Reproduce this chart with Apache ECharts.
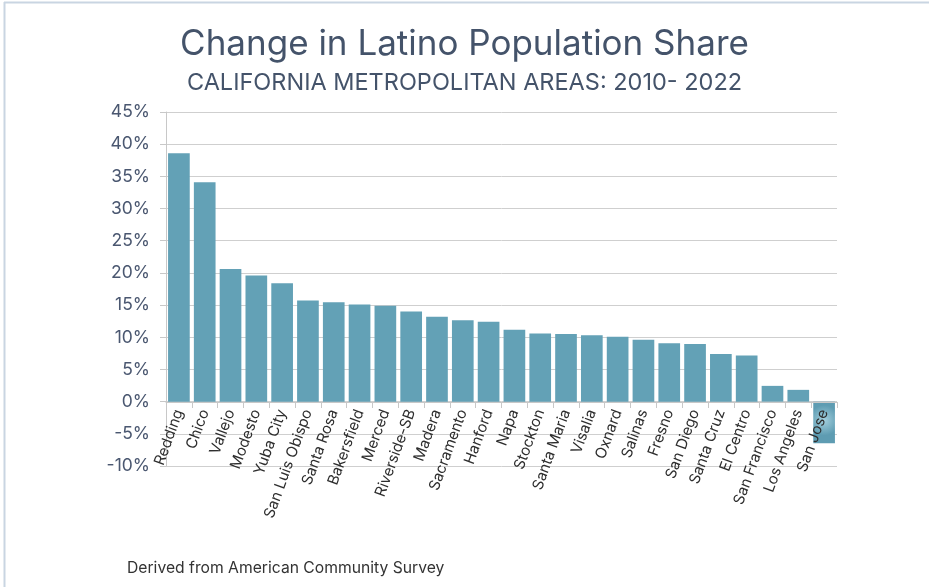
<!DOCTYPE html>
<html>
<head>
<meta charset="utf-8">
<script src="https://cdn.jsdelivr.net/npm/echarts@6/dist/echarts.min.js"></script>
<style>
html,body{margin:0;padding:0;background:#fff;}
#chart{width:929px;height:587px;}
</style>
</head>
<body>
<div id="chart"></div>
<script>
const categories = ["Redding","Chico","Vallejo","Modesto","Yuba City","San Luis Obispo","Santa Rosa","Bakersfield","Merced","Riverside-SB","Madera","Sacramento","Hanford","Napa","Stockton","Santa Maria","Visalia","Oxnard","Salinas","Fresno","San Diego","Santa Cruz","El Centro","San Francisco","Los Angeles","San Jose"];
const values = [38.6,34.1,20.6,19.6,18.4,15.7,15.45,15.1,14.9,14.0,13.2,12.65,12.4,11.15,10.6,10.5,10.3,10.07,9.6,9.08,8.97,7.42,7.16,2.45,1.83,-6.45];
const titleText = "Change in Latino Population Share";
const subtitleText = "CALIFORNIA METROPOLITAN AREAS: 2010- 2022";
const sourceText = "Derived from American Community Survey";

const FONT = "Inter, Lato, sans-serif";
const barColor = "#63a1b6";
const chart = echarts.init(document.getElementById('chart'), null, {renderer:'canvas'});
const data = values.map((v, i) => {
  if (i === values.length - 1) {
    return {value: v, itemStyle: {color: {type:'radial', x:0.5, y:0.45, r:0.7,
      colorStops:[{offset:0,color:'#a3cfdd'},{offset:1,color:'#5e9cb2'}]}}};
  }
  return v;
});
chart.setOption({
  animation:false,
  title:[
    {text:titleText, left:'center', top:22, textStyle:{fontFamily:FONT, fontSize:35, fontWeight:'normal', color:'#44536a'}},
    {text:subtitleText, left:'center', top:66, textStyle:{fontFamily:FONT, fontSize:23.5, fontWeight:'normal', color:'#44536a'}},
    {text:sourceText, left:122, top:555, textStyle:{fontFamily:FONT, fontSize:15.7, fontWeight:'normal', color:'#333'}}
  ],
  graphic:[
    {type:'line', shape:{x1:4.5,y1:2,x2:4.5,y2:587}, style:{stroke:'#c9d5e2', lineWidth:2}},
    {type:'line', shape:{x1:4,y1:2.5,x2:929,y2:2.5}, style:{stroke:'#c9d5e2', lineWidth:2}}
  ],
  grid:{left:166, right:92, top:112, bottom:121, containLabel:false},
  xAxis:{
    type:'category', data:categories, position:'bottom', offset:-64, z:5,
    axisLine:{show:true, onZero:false, lineStyle:{color:'#c8c8c8'}},
    axisTick:{show:true, alignWithLabel:false, length:6, lineStyle:{color:'#c8c8c8'}},
    axisLabel:{rotate:70, interval:0, margin:8, fontFamily:FONT, fontSize:15, color:'#2e2e2e'}
  },
  yAxis:{
    type:'value', min:-10, max:45, interval:5,
    axisLine:{show:true, lineStyle:{color:'#c8c8c8'}},
    axisTick:{show:true, length:6, lineStyle:{color:'#c8c8c8'}},
    splitLine:{show:true, lineStyle:{color:'#cfcfcf'}},
    axisLabel:{formatter:'{value}%', margin:16, fontFamily:FONT, fontSize:17.5, color:'#4a5770'}
  },
  series:[{type:'bar', data:data, barCategoryGap:'16%', itemStyle:{color:barColor}}]
});
</script>
</body>
</html>
